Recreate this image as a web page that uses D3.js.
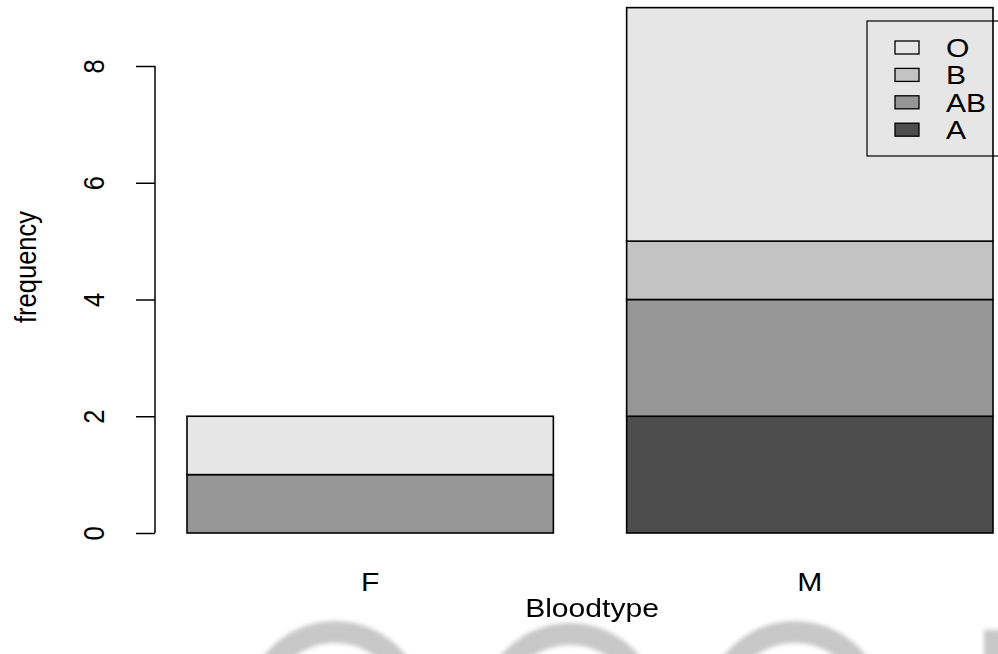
<!DOCTYPE html>
<html>
<head>
<meta charset="utf-8">
<script src="https://cdn.jsdelivr.net/npm/d3@7/dist/d3.min.js"></script>
<style>
  html, body { margin: 0; padding: 0; background: #ffffff; }
  svg { display: block; }
  text { font-family: "Liberation Sans", Arial, Helvetica, sans-serif; fill: #000; }
</style>
</head>
<body>
<svg id="chart" width="998" height="654"></svg>
<script>
// Stacked bar chart: blood type counts by sex
const categories = ["F", "M"];
const bloodTypes = ["A", "AB", "B", "O"];
const countsF = [0, 1, 0, 1];
const countsM = [2, 2, 1, 4];
const fillColors = ["#4D4D4D", "#969696", "#C3C3C3", "#E6E6E6"];
const yTickValues = [0, 2, 4, 6, 8];
const xTitle = "Bloodtype";
const yTitle = "frequency";

const W = 998, H = 654;
const fontSize = 25.5;
const stretchX = 1.18;   // glyphs are drawn a little wider than tall

const svg = d3.select("#chart");

// faint background emblem along the bottom edge
const defs = svg.append("defs");
defs.append("filter").attr("id", "soft")
  .attr("x", "-20%").attr("y", "-20%").attr("width", "140%").attr("height", "140%")
  .append("feGaussianBlur").attr("stdDeviation", 2.2);
const emblem = svg.append("g").attr("filter", "url(#soft)").attr("fill", "#c8c8c8");
const ring = d3.arc().innerRadius(68).outerRadius(90).startAngle(0).endAngle(2 * Math.PI);
[[335, 711], [570, 713], [795, 711]].forEach(c => {
  emblem.append("path").attr("d", ring()).attr("transform", `translate(${c[0]},${c[1]})`);
});
emblem.append("rect").attr("x", 984).attr("y", 630).attr("width", 20).attr("height", 30);

// table rows built from the named arrays
const rows = categories.map((c, i) => {
  const vals = i === 0 ? countsF : countsM;
  const r = { cat: c };
  bloodTypes.forEach((b, j) => r[b] = vals[j]);
  return r;
});
const series = d3.stack().keys(bloodTypes)(rows);

const x = d3.scaleBand().domain(categories).range([187, 993])
  .paddingInner(0.2 / 1.2).paddingOuter(0);
const y = d3.scaleLinear().domain([0, 9]).range([533, 533 - 9 * 58.375]);
const color = d3.scaleOrdinal().domain(bloodTypes).range(fillColors);

// bars
svg.append("g").selectAll("g").data(series).join("g")
  .attr("fill", d => color(d.key))
  .selectAll("rect").data(d => d).join("rect")
  .attr("x", d => x(d.data.cat))
  .attr("y", d => y(d[1]))
  .attr("width", x.bandwidth())
  .attr("height", d => y(d[0]) - y(d[1]))
  .attr("stroke", "#000")
  .attr("stroke-width", 1.6);

// y axis
const axisX = 155;
const yAxis = d3.axisLeft(y).tickValues(yTickValues).tickSize(19).tickPadding(0).tickFormat(d3.format("d"));
const gy = svg.append("g").attr("transform", `translate(${axisX},0)`).call(yAxis);
gy.select(".domain").attr("d", `M0,${y(0)}V${y(8)}`).attr("stroke", "#000").attr("stroke-width", 1.5);
gy.selectAll(".tick line").attr("stroke", "#000").attr("stroke-width", 1.5);
gy.selectAll(".tick text").remove();
gy.selectAll(".tick").append("text")
  .attr("transform", `translate(${104 - axisX},0) scale(${stretchX},1) rotate(-90)`)
  .attr("text-anchor", "middle")
  .attr("font-size", fontSize)
  .text(d => d3.format("d")(d));

// category labels
svg.append("g").selectAll("text").data(categories).join("text")
  .attr("transform", d => `translate(${x(d) + x.bandwidth() / 2},591) scale(${stretchX},1)`)
  .attr("text-anchor", "middle")
  .attr("font-size", fontSize)
  .text(d => d);

// axis titles
svg.append("text")
  .attr("transform", `translate(592,617) scale(${stretchX},1)`)
  .attr("text-anchor", "middle")
  .attr("font-size", fontSize)
  .text(xTitle);
svg.append("text")
  .attr("transform", `translate(36,267) scale(${stretchX},1) rotate(-90)`)
  .attr("text-anchor", "middle")
  .attr("font-size", fontSize)
  .text(yTitle);

// legend (top row is the top of the stack)
const legend = svg.append("g");
legend.append("rect").attr("x", 867).attr("y", 21).attr("width", 160).attr("height", 135)
  .attr("fill", "none").attr("stroke", "#000").attr("stroke-width", 1.2);
const legendKeys = bloodTypes.slice().reverse();
const li = legend.selectAll("g.item").data(legendKeys).join("g").attr("class", "item")
  .attr("transform", (d, i) => `translate(0,${i * 27.4})`);
li.append("rect").attr("x", 895).attr("y", 41).attr("width", 24).attr("height", 13)
  .attr("fill", d => color(d)).attr("stroke", "#000").attr("stroke-width", 1.3);
li.append("text")
  .attr("transform", `translate(946,57) scale(${stretchX},1)`)
  .attr("font-size", fontSize)
  .text(d => d);
</script>
</body>
</html>
